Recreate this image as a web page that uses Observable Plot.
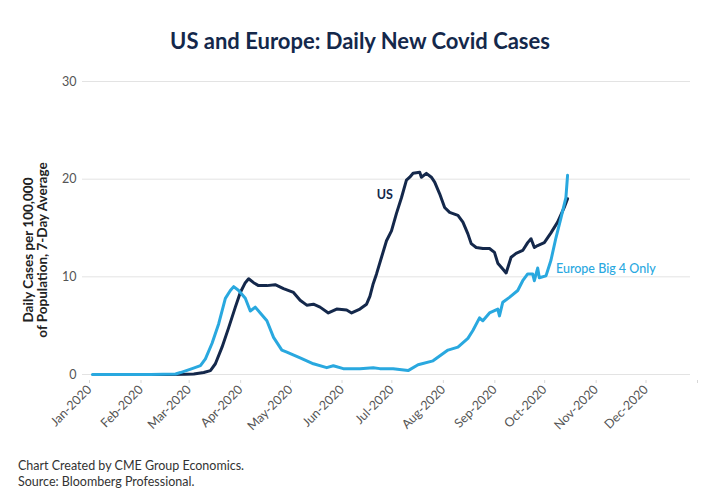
<!DOCTYPE html>
<html>
<head>
<meta charset="utf-8">
<script src="https://cdn.jsdelivr.net/npm/d3@7"></script>
<script src="https://cdn.jsdelivr.net/npm/@observablehq/plot@0.6"></script>
<style>
  html, body { margin: 0; padding: 0; background: #fff; }
  #wrap { width: 720px; height: 500px; position: relative; font-family: Lato, "Open Sans", sans-serif; }
  #title { height: 65px; box-sizing: border-box; padding-top: 27px; text-align: center; font-size: 22px; font-weight: 700; color: #14284b; line-height: 28px; }
  #caption { padding: 8px 0 0 18px; font-size: 12.5px; line-height: 16px; color: #333; }
</style>
</head>
<body>
<div id="wrap">
  <div id="title">US and Europe: Daily New Covid Cases</div>
  <div id="chart"></div>
  <div id="caption">Chart Created by CME Group Economics.<br>Source: Bloomberg Professional.</div>
</div>
<script>
// ---- Data ----
const usDates = ["2020-01-22","2020-02-20","2020-03-03","2020-03-08","2020-03-14","2020-03-18","2020-03-21","2020-03-25","2020-03-29","2020-04-02","2020-04-05","2020-04-08","2020-04-10","2020-04-13","2020-04-16","2020-04-21","2020-04-26","2020-05-01","2020-05-07","2020-05-11","2020-05-15","2020-05-19","2020-05-23","2020-05-28","2020-06-02","2020-06-08","2020-06-11","2020-06-16","2020-06-20","2020-06-22","2020-06-24","2020-06-26","2020-06-29","2020-07-02","2020-07-05","2020-07-08","2020-07-11","2020-07-14","2020-07-16","2020-07-18","2020-07-22","2020-07-23","2020-07-26","2020-07-29","2020-07-31","2020-08-03","2020-08-06","2020-08-09","2020-08-14","2020-08-17","2020-08-20","2020-08-22","2020-08-25","2020-08-29","2020-09-02","2020-09-05","2020-09-07","2020-09-10","2020-09-12","2020-09-15","2020-09-18","2020-09-22","2020-09-25","2020-09-27","2020-09-29","2020-10-01","2020-10-05","2020-10-09","2020-10-13","2020-10-17","2020-10-19"];
const usValues = [0,0,0.02,0.05,0.2,0.4,1.1,2.8,4.8,6.9,8.4,9.4,9.8,9.4,9.1,9.1,9.2,8.8,8.4,7.6,7.1,7.2,6.9,6.3,6.7,6.6,6.3,6.7,7.2,8.0,9.3,10.3,12.0,13.7,14.7,16.5,18.1,19.9,20.2,20.6,20.7,20.2,20.6,20.2,19.7,18.5,17.1,16.6,16.3,15.6,14.4,13.4,13.0,12.9,12.9,12.5,11.4,10.8,10.4,12.0,12.4,12.7,13.5,13.9,13.0,13.2,13.5,14.5,15.6,17.1,18.0];

const euDates = ["2020-01-07","2020-02-11","2020-02-26","2020-02-29","2020-03-07","2020-03-12","2020-03-15","2020-03-19","2020-03-23","2020-03-27","2020-03-30","2020-04-01","2020-04-04","2020-04-08","2020-04-11","2020-04-14","2020-04-17","2020-04-21","2020-04-25","2020-04-30","2020-05-03","2020-05-11","2020-05-19","2020-05-27","2020-05-31","2020-06-06","2020-06-16","2020-06-24","2020-06-28","2020-07-06","2020-07-15","2020-07-21","2020-07-30","2020-08-08","2020-08-14","2020-08-20","2020-08-23","2020-08-27","2020-08-29","2020-09-02","2020-09-07","2020-09-08","2020-09-10","2020-09-14","2020-09-19","2020-09-22","2020-09-25","2020-09-28","2020-09-29","2020-10-01","2020-10-02","2020-10-06","2020-10-09","2020-10-12","2020-10-15","2020-10-18","2020-10-19"];
const euValues = [0,0,0.05,0.2,0.6,0.9,1.6,3.2,5.2,7.8,8.6,9.0,8.6,7.8,6.5,6.9,6.3,5.5,3.8,2.5,2.3,1.7,1.1,0.7,0.9,0.6,0.6,0.7,0.6,0.6,0.4,1.0,1.4,2.5,2.8,3.7,4.5,5.8,5.5,6.3,6.7,6.0,7.4,7.9,8.6,9.6,10.3,10.3,9.6,10.9,9.9,10.1,11.7,14.0,16.0,18.1,20.4];

const yTicks = [0, 10, 20, 30];
const monthTicks = ["2020-01-01","2020-02-01","2020-03-01","2020-04-01","2020-05-01","2020-06-01","2020-07-01","2020-08-01","2020-09-01","2020-10-01","2020-11-01","2020-12-01","2021-01-01"];
const monthLabels = ["Jan-2020","Feb-2020","Mar-2020","Apr-2020","May-2020","Jun-2020","Jul-2020","Aug-2020","Sep-2020","Oct-2020","Nov-2020","Dec-2020",""];
const seriesNames = ["US", "Europe Big 4 Only"];
const yLabel = "Daily Cases per 100,000\nof Population, 7-Day Average";

// ---- Build tables ----
const us = usDates.map((d, i) => ({date: new Date(d), value: usValues[i]}));
const eu = euDates.map((d, i) => ({date: new Date(d), value: euValues[i]}));
const tickDates = monthTicks.map(d => new Date(d));
const labelByTime = new Map(tickDates.map((d, i) => [+d, monthLabels[i]]));

const NAVY = "#14284b", BLUE = "#29a8df";

const chart = Plot.plot({
  width: 720,
  height: 385,
  marginTop: 16,
  marginRight: 30,
  marginBottom: 76,
  marginLeft: 82,
  style: {fontFamily: "Lato, 'Open Sans', sans-serif", fontSize: "12px", background: "white", color: "#555"},
  x: {type: "utc", domain: [new Date("2020-01-01"), new Date("2021-01-01")]},
  y: {domain: [0, 30]},
  marks: [
    Plot.gridY(yTicks, {stroke: "#e3e3e3", strokeOpacity: 1, strokeWidth: 1}),
    Plot.axisY(yTicks, {tickSize: 0, tickPadding: 6, label: null, fill: "#555", fontSize: 12.5}),
    Plot.axisX(tickDates, {tickSize: 3, tickPadding: 4, tickRotate: -45, label: null, stroke: "#d8d8d8", fill: "#555", fontSize: 12.5,
      dx: 7, dy: 6, tickFormat: d => labelByTime.get(+d)}),
    Plot.text([yLabel], {frameAnchor: "left", rotate: -90, dx: -47, dy: 22, textAnchor: "middle", lineAnchor: "middle", lineHeight: 1.05,
      fill: "#222", fontWeight: 700, fontSize: 13.5}),
    Plot.line(us, {x: "date", y: "value", stroke: NAVY, strokeWidth: 3, curve: "linear"}),
    Plot.line(eu, {x: "date", y: "value", stroke: BLUE, strokeWidth: 3, curve: "linear"}),
    Plot.text([{date: new Date("2020-07-01"), value: 18.4, name: seriesNames[0]}], {x: "date", y: "value", text: "name",
      fill: NAVY, fontWeight: 700, fontSize: 12.5, textAnchor: "middle"}),
    Plot.text([{date: new Date("2020-10-12"), value: 10.85, name: seriesNames[1]}], {x: "date", y: "value", text: "name",
      fill: BLUE, fontWeight: 500, fontSize: 12.5, textAnchor: "start"})
  ]
});
document.getElementById("chart").appendChild(chart);
</script>
</body>
</html>
